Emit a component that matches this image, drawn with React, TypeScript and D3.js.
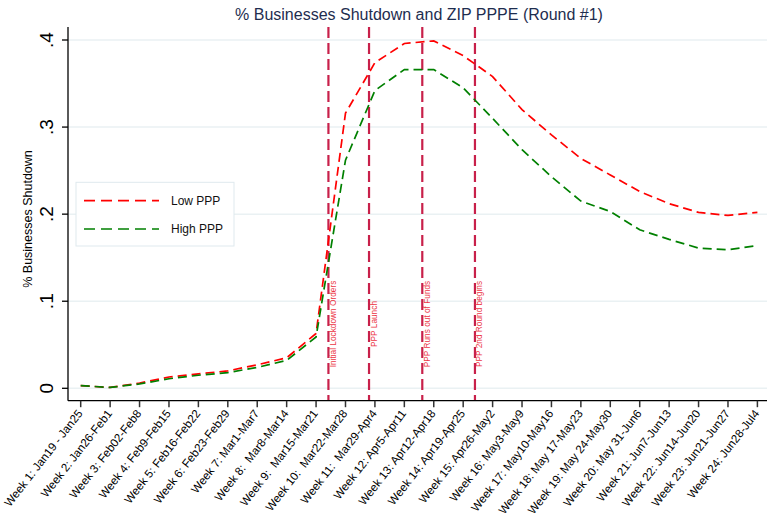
import React from "react";
import * as d3 from "d3";

const weekLabels = [
  "Week 1: Jan19 - Jan25",
  "Week 2: Jan26-Feb1",
  "Week 3: Feb02-Feb8",
  "Week 4: Feb9-Feb15",
  "Week 5: Feb16-Feb22",
  "Week 6: Feb23-Feb29",
  "Week 7: Mar1-Mar7",
  "Week 8:  Mar8-Mar14",
  "Week 9:  Mar15-Mar21",
  "Week 10:  Mar22-Mar28",
  "Week 11:  Mar29-Apr4",
  "Week 12: Apr5-Apr11",
  "Week 13: Apr12-Apr18",
  "Week 14: Apr19-Apr25",
  "Week 15: Apr26-May2",
  "Week 16: May3-May9",
  "Week 17: May10-May16",
  "Week 18: May 17-May23",
  "Week 19: May 24-May30",
  "Week 20: May 31-Jun6",
  "Week 21: Jun7-Jun13",
  "Week 22: Jun14-Jun20",
  "Week 23: Jun21-Jun27",
  "Week 24: Jun28-Jul4",
];
const weeks = weekLabels.map((_, i) => i + 1);

const lowPPP = [0.003, 0.001, 0.006, 0.013, 0.0165, 0.02, 0.027, 0.035, 0.063, 0.316, 0.374, 0.396, 0.399, 0.382, 0.358, 0.32, 0.291, 0.264, 0.245, 0.226, 0.212, 0.202, 0.1985, 0.202];
const highPPP = [0.003, 0.001, 0.005, 0.011, 0.015, 0.018, 0.024, 0.032, 0.059, 0.262, 0.342, 0.366, 0.366, 0.345, 0.31, 0.274, 0.243, 0.215, 0.203, 0.182, 0.171, 0.161, 0.159, 0.164];

const eventWeeks = [9.42, 10.8, 12.61, 14.4];
const eventLabels = ["Initial Lockdown Orders", "PPP Launch", "PPP Runs out of Funds", "PPP 2nd Round begins"];

const yTicks = [0, 0.1, 0.2, 0.3, 0.4];
const yTickLabels = ["0", ".1", ".2", ".3", ".4"];

const seriesNames = ["Low PPP", "High PPP"];
const seriesColors = ["#ff0000", "#008000"];

const W = 767;
const H = 523;
const FONT = "Arial, 'Liberation Sans', Helvetica, sans-serif";

export default function App() {
  const x = d3.scaleLinear().domain([1, 24]).range([80.7, 757.4]);
  const y = d3.scaleLinear().domain([0, 0.4]).range([388.3, 40]);
  const plotLeft = 68;
  const plotRight = 767;
  const plotTop = 27;
  const axisY = 400.7;

  const line = d3
    .line<number>()
    .x((_, i) => x(weeks[i]))
    .y((d) => y(d));

  const series = [lowPPP, highPPP];

  return (
    <svg
      width={W}
      height={H}
      style={{ position: "absolute", left: 0, top: 0, background: "#fff" }}
      fontFamily={FONT}
    >
      <rect x={0} y={0} width={W} height={H} fill="#ffffff" />
      {yTicks.map((t) => (
        <line key={"g" + t} x1={plotLeft} x2={plotRight} y1={y(t)} y2={y(t)} stroke="#eaf1f3" strokeWidth={1.5} />
      ))}
      <text x={419} y={20} textAnchor="middle" fontSize={16} fill="#1e2d4f">
        % Businesses Shutdown and ZIP PPPE (Round #1)
      </text>
      {eventWeeks.map((w, i) => (
        <g key={"e" + i}>
          <line
            x1={x(w)}
            x2={x(w)}
            y1={plotTop}
            y2={axisY}
            stroke="#c8204a"
            strokeWidth={2.2}
            strokeDasharray="11,5"
          />
          <text
            transform={`translate(${x(w) + 7.5},324) rotate(-90)`}
            textAnchor="middle"
            fontSize={8.3}
            fill="#ec3645"
          >
            {eventLabels[i]}
          </text>
        </g>
      ))}
      {series.map((s, i) => (
        <path
          key={"s" + i}
          d={line(s) || ""}
          fill="none"
          stroke={seriesColors[i]}
          strokeWidth={1.7}
          strokeDasharray="9,5"
        />
      ))}
      <line x1={plotLeft} x2={plotLeft} y1={plotTop} y2={axisY} stroke="#000" strokeWidth={1.3} />
      {yTicks.map((t, i) => (
        <g key={"yt" + t}>
          <line x1={plotLeft - 6} x2={plotLeft} y1={y(t)} y2={y(t)} stroke="#000" strokeWidth={1.3} />
          <text
            transform={`translate(53,${y(t)}) rotate(-90)`}
            textAnchor="middle"
            fontSize={19}
            fill="#000"
          >
            {yTickLabels[i]}
          </text>
        </g>
      ))}
      <text
        transform={`translate(32,219) rotate(-90)`}
        textAnchor="middle"
        fontSize={12.5}
        fill="#000"
      >
        % Businesses Shutdown
      </text>
      <line x1={plotLeft} x2={plotRight} y1={axisY} y2={axisY} stroke="#000" strokeWidth={1.3} />
      {weeks.map((w, i) => (
        <g key={"xt" + w}>
          <line x1={x(w)} x2={x(w)} y1={axisY} y2={axisY + 6.5} stroke="#333" strokeWidth={1.5} />
          <text
            transform={`translate(${x(w) + 2.5},${axisY + 13}) rotate(-52)`}
            textAnchor="end"
            fontSize={11.6}
            fill="#000"
            style={{ whiteSpace: "pre" }}
          >
            {weekLabels[i]}
          </text>
        </g>
      ))}
      <rect x={76} y={182.3} width={158} height={63.7} fill="#fff" stroke="#dfe9ee" strokeWidth={1} />
      {seriesNames.map((n, i) => (
        <g key={"l" + i}>
          <line
            x1={84}
            x2={159}
            y1={200.7 + i * 28.3}
            y2={200.7 + i * 28.3}
            stroke={seriesColors[i]}
            strokeWidth={1.7}
            strokeDasharray="11,6"
          />
          <text x={171} y={205 + i * 28.3} fontSize={12} fill="#111">
            {n}
          </text>
        </g>
      ))}
    </svg>
  );
}
